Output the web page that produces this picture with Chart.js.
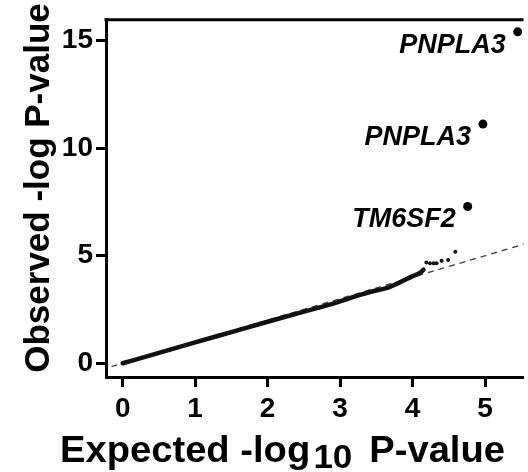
<!DOCTYPE html>
<html>
<head>
<meta charset="utf-8">
<script src="https://cdn.jsdelivr.net/npm/chart.js@4/dist/chart.umd.min.js"></script>
<style>
html,body{margin:0;padding:0;background:#fff;overflow:hidden;}
canvas{display:block;}
</style>
</head>
<body>
<canvas id="c" width="528" height="472"></canvas>
<script>
// ---- data ----
const expectedLine = [0, 0.5, 1.0, 1.5, 2.0, 2.5, 2.83, 3.0, 3.3, 3.5, 3.65, 3.8, 4.0, 4.1, 4.15];
const observedLine = [0, 0.48, 0.97, 1.45, 1.93, 2.4, 2.7, 2.88, 3.2, 3.38, 3.5, 3.72, 4.05, 4.2, 4.35];
const expectedTail = [4.19, 4.24, 4.29, 4.33, 4.40, 4.49, 4.59];
const observedTail = [4.68, 4.65, 4.65, 4.65, 4.76, 4.80, 5.18];
const expectedTop = [4.76, 4.97, 5.45];
const observedTop = [7.29, 11.12, 15.41];
const topGenes = ['TM6SF2', 'PNPLA3', 'PNPLA3'];
const diagonal = [-0.3, 5.7];
const xTicks = [0, 1, 2, 3, 4, 5];
const yTicks = [0, 5, 10, 15];
const yTitle = 'Observed -log P-value';
const xTitleParts = ['Expected -log', '10', 'P-value'];

const FONT = "'Liberation Sans', Arial, Helvetica, sans-serif";
const zip = (xs, ys) => xs.map((x, i) => ({x: x, y: ys[i]}));

const annot = {
  id: 'annot',
  afterDraw(chart) {
    const ctx = chart.ctx, a = chart.chartArea;
    ctx.save();
    // top border
    ctx.strokeStyle = '#000'; ctx.lineWidth = 3;
    ctx.beginPath(); ctx.moveTo(a.left - 1.5, a.top); ctx.lineTo(a.right, a.top); ctx.stroke();
    // gene labels
    const meta = chart.getDatasetMeta(3);
    ctx.fillStyle = '#000';
    ctx.font = 'italic bold 27px ' + FONT;
    ctx.textAlign = 'right'; ctx.textBaseline = 'alphabetic';
    meta.data.forEach((p, i) => {
      ctx.fillText(topGenes[i], p.x - 12, p.y + 21);
    });
    // y title
    ctx.save();
    ctx.translate(49, 188);
    ctx.rotate(-Math.PI / 2);
    ctx.font = 'bold 35px ' + FONT;
    ctx.textAlign = 'center'; ctx.textBaseline = 'alphabetic';
    ctx.fillText(yTitle, 0, 0);
    ctx.restore();
    // x title with subscript
    ctx.save();
    ctx.textAlign = 'left'; ctx.textBaseline = 'alphabetic';
    const sx = 1.06;
    ctx.translate(60, 0);
    ctx.scale(sx, 1);
    let x = 0;
    ctx.font = 'bold 36px ' + FONT;
    ctx.fillText(xTitleParts[0], x, 462);
    x += ctx.measureText(xTitleParts[0]).width + 3;
    ctx.font = 'bold 33px ' + FONT;
    ctx.fillText(xTitleParts[1], x, 468);
    x += ctx.measureText(xTitleParts[1]).width + 16;
    ctx.font = 'bold 36px ' + FONT;
    ctx.fillText(xTitleParts[2], x, 462);
    ctx.restore();
    ctx.restore();
  }
};

new Chart(document.getElementById('c'), {
  type: 'scatter',
  data: {
    datasets: [
      {
        data: zip(diagonal, diagonal), showLine: true, borderColor: '#444',
        borderWidth: 1.4, borderDash: [6, 5], pointRadius: 0, order: 4
      },
      {
        data: zip(expectedLine, observedLine), showLine: true, borderColor: '#111',
        borderWidth: 4.5, pointRadius: 0, cubicInterpolationMode: 'monotone', borderCapStyle: 'round', order: 3
      },
      {
        data: zip(expectedTail, observedTail), showLine: false, backgroundColor: '#111',
        borderWidth: 0, pointRadius: 2, order: 2
      },
      {
        data: zip(expectedTop, observedTop), showLine: false, backgroundColor: '#000',
        borderWidth: 0, pointRadius: 4.5, order: 1
      }
    ]
  },
  options: {
    responsive: false,
    devicePixelRatio: 1,
    animation: false,
    events: [],
    layout: {padding: {left: 0, right: 0, top: 12, bottom: 0}},
    plugins: {legend: {display: false}, tooltip: {enabled: false}, title: {display: false}},
    scales: {
      x: {
        type: 'linear', min: -0.23, max: 5.53,
        afterBuildTicks: s => { s.ticks = xTicks.map(v => ({value: v})); },
        afterFit: s => { s.height = 95; },
        border: {display: true, color: '#000', width: 3},
        grid: {drawOnChartArea: false, drawTicks: true, tickLength: 10, tickWidth: 3, tickColor: '#000'},
        ticks: {color: '#000', font: {family: FONT, size: 28, weight: 'bold'}, padding: 5, maxRotation: 0}
      },
      y: {
        type: 'linear', min: -0.64, max: 15.97,
        afterBuildTicks: s => { s.ticks = yTicks.map(v => ({value: v})); },
        afterFit: s => { s.width = 106; },
        border: {display: true, color: '#000', width: 3},
        grid: {drawOnChartArea: false, drawTicks: true, tickLength: 10, tickWidth: 3, tickColor: '#000'},
        ticks: {color: '#000', font: {family: FONT, size: 28, weight: 'bold'}, padding: 3}
      }
    }
  },
  plugins: [annot]
});
</script>
</body>
</html>
